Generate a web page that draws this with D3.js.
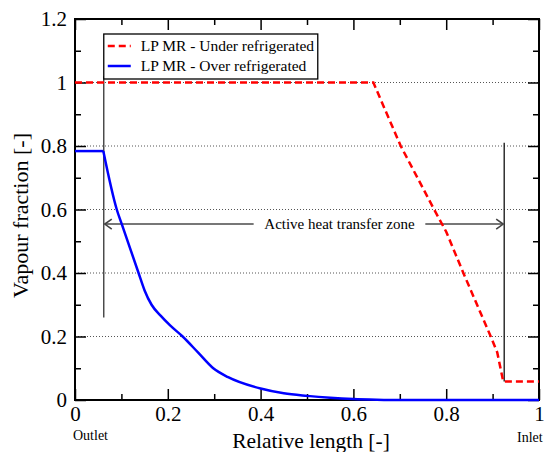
<!DOCTYPE html>
<html>
<head>
<meta charset="utf-8">
<script src="https://cdn.jsdelivr.net/npm/d3@7"></script>
<style>
  body { margin: 0; background: #fff; }
  svg { display: block; font-family: "Liberation Serif", "Times New Roman", serif; }
</style>
</head>
<body>
<div id="chart"></div>
<script>
// LP MR - Under refrigerated (red dashed)
var underX = [0, 0.643, 0.702, 0.774, 0.800, 0.837, 0.896, 0.910, 0.923, 1.0];
var underY = [1.0, 1.0, 0.80, 0.60, 0.53, 0.40, 0.20, 0.15, 0.058, 0.058];

// LP MR - Over refrigerated (blue solid)
var overX = [0, 0.061, 0.090, 0.101, 0.137, 0.150, 0.165, 0.185, 0.205, 0.232, 0.265, 0.298, 0.330, 0.400, 0.450, 0.500, 0.550, 0.600, 0.650, 0.700, 1.0];
var overY = [0.784, 0.784, 0.60, 0.553, 0.40, 0.345, 0.300, 0.265, 0.235, 0.200, 0.150, 0.100, 0.072, 0.036, 0.021, 0.013, 0.007, 0.003, 0.001, 0, 0];

var seriesNames = ["LP MR - Under refrigerated", "LP MR - Over refrigerated"];
var xTicks = [0, 0.2, 0.4, 0.6, 0.8, 1];
var yTicks = [0, 0.2, 0.4, 0.6, 0.8, 1, 1.2];
var gridY = [0.2, 0.4, 0.6, 0.8, 1];

// annotation: active zone boundaries
var zoneStart = 0.062, zoneEnd = 0.925, zoneArrowY = 0.554;

(function(){

  var width = 544,
      height = 452,
      margin = {top: 19, right: 5, bottom: 52, left: 75},
      chartWidth = width - margin.left - margin.right,
      chartHeight = height - margin.top - margin.bottom,
      serif = "Liberation Serif, Times New Roman, serif";

  var svg = d3.select("#chart").append("svg")
      .attr("width", width)
      .attr("height", height);

  var defs = svg.append("defs");
  defs.append("marker")
      .attr("id", "arrow")
      .attr("viewBox", "-10 -10 20 20")
      .attr("markerWidth", 10)
      .attr("markerHeight", 10)
      .attr("orient", "auto")
    .append("path")
      .attr("d", "M-7,-5 L0,0 L-7,5")
      .attr("fill", "none")
      .attr("stroke", "#444")
      .attr("stroke-width", 1.6);

  var chart = svg.append("g")
      .attr("transform", "translate(" + margin.left + "," + margin.top + ")");

  var x = d3.scaleLinear().domain([0, 1]).range([0, chartWidth]);
  var y = d3.scaleLinear().domain([0, 1.2]).range([chartHeight, 0]);

  // dotted grid
  chart.append("g").attr("class", "grid")
    .selectAll("line")
    .data(gridY)
    .enter().append("line")
      .attr("x1", 0).attr("x2", chartWidth)
      .attr("y1", function(d){ return y(d); })
      .attr("y2", function(d){ return y(d); })
      .attr("stroke", "#555")
      .attr("stroke-width", 1)
      .attr("stroke-dasharray", "1,2");

  // ticks on all four sides, pointing inwards
  var xMinor = d3.range(0.1, 1, 0.2), yMinor = d3.range(0.1, 1.2, 0.2);

  function styleAxis(g){
    g.select(".domain").remove();
    g.selectAll(".tick line").attr("stroke", "#000").attr("stroke-width", 1.5);
  }

  chart.append("g")
      .attr("transform", "translate(0," + chartHeight + ")")
      .call(d3.axisBottom(x).tickValues(xTicks).tickSize(-11).tickPadding(6)
        .tickFormat(function(d){ return d3.format("")(d); }))
      .call(styleAxis)
      .selectAll("text")
        .attr("font-size", 21).attr("fill", "#000")
        .attr("font-family", serif);

  chart.append("g")
      .attr("transform", "translate(0," + chartHeight + ")")
      .call(d3.axisBottom(x).tickValues(xMinor).tickSize(-6).tickFormat(""))
      .call(styleAxis);

  chart.append("g")
      .call(d3.axisTop(x).tickValues(xTicks).tickSize(-11).tickFormat(""))
      .call(styleAxis);
  chart.append("g")
      .call(d3.axisTop(x).tickValues(xMinor).tickSize(-6).tickFormat(""))
      .call(styleAxis);

  chart.append("g")
      .call(d3.axisLeft(y).tickValues(yTicks).tickSize(-11).tickPadding(8)
        .tickFormat(function(d){ return d3.format("")(+d.toFixed(1)); }))
      .call(styleAxis)
      .selectAll("text")
        .attr("font-size", 21).attr("fill", "#000")
        .attr("font-family", serif);
  chart.append("g")
      .call(d3.axisLeft(y).tickValues(yMinor).tickSize(-6).tickFormat(""))
      .call(styleAxis);

  chart.append("g")
      .attr("transform", "translate(" + chartWidth + ",0)")
      .call(d3.axisRight(y).tickValues(yTicks).tickSize(-11).tickFormat(""))
      .call(styleAxis);
  chart.append("g")
      .attr("transform", "translate(" + chartWidth + ",0)")
      .call(d3.axisRight(y).tickValues(yMinor).tickSize(-6).tickFormat(""))
      .call(styleAxis);

  // frame
  chart.append("rect")
      .attr("width", chartWidth)
      .attr("height", chartHeight)
      .attr("fill", "none")
      .attr("stroke", "#000")
      .attr("stroke-width", 2);

  // series
  var under = underX.map(function(d, i){ return {x: d, y: underY[i]}; });
  var over = overX.map(function(d, i){ return {x: d, y: overY[i]}; });

  var lineLinear = d3.line()
      .x(function(d){ return x(d.x); })
      .y(function(d){ return y(d.y); });

  var lineSmooth = d3.line()
      .x(function(d){ return x(d.x); })
      .y(function(d){ return y(d.y); })
      .curve(d3.curveMonotoneX);

  // annotation lines (under the curves)
  var ann = chart.append("g").attr("class", "annotation");
  ann.append("line")
      .attr("x1", x(zoneStart)).attr("x2", x(zoneStart))
      .attr("y1", y(1.02)).attr("y2", y(0.26))
      .attr("stroke", "#333").attr("stroke-width", 1.3);
  ann.append("line")
      .attr("x1", x(zoneEnd)).attr("x2", x(zoneEnd))
      .attr("y1", y(0.81)).attr("y2", y(0.058))
      .attr("stroke", "#111").attr("stroke-width", 1.3);

  ann.append("line")
      .attr("x1", x(0.385)).attr("x2", x(zoneStart) + 1)
      .attr("y1", y(zoneArrowY)).attr("y2", y(zoneArrowY))
      .attr("stroke", "#777").attr("stroke-width", 2)
      .attr("marker-end", "url(#arrow)");
  ann.append("line")
      .attr("x1", x(0.755)).attr("x2", x(zoneEnd) - 1)
      .attr("y1", y(zoneArrowY)).attr("y2", y(zoneArrowY))
      .attr("stroke", "#777").attr("stroke-width", 2)
      .attr("marker-end", "url(#arrow)");
  ann.append("text")
      .attr("x", x(0.57))
      .attr("y", y(zoneArrowY) + 5)
      .attr("text-anchor", "middle")
      .attr("font-size", 15)
      .attr("fill", "#000")
      .text("Active heat transfer zone");

  chart.append("path")
      .attr("d", lineLinear(under))
      .attr("fill", "none")
      .attr("stroke", "#ff0000")
      .attr("stroke-width", 2.5)
      .attr("stroke-dasharray", "7,4");

  // flat outlet part is a sharp corner, the decay after it is smooth
  chart.append("path")
      .attr("d", lineLinear(over.slice(0, 2)))
      .attr("fill", "none")
      .attr("stroke", "#0000ff")
      .attr("stroke-width", 2.5);
  chart.append("path")
      .attr("d", lineSmooth(over.slice(1)))
      .attr("fill", "none")
      .attr("stroke", "#0000ff")
      .attr("stroke-width", 2.5)
      .attr("stroke-linejoin", "round");

  // legend
  var legend = chart.append("g")
      .attr("transform", "translate(" + (x(0.062)) + "," + 15 + ")");
  legend.append("rect")
      .attr("width", 214)
      .attr("height", 45)
      .attr("fill", "#fff")
      .attr("stroke", "#000")
      .attr("stroke-width", 1.3);

  var legendStyles = [
    {color: "#ff0000", dash: "7,4"},
    {color: "#0000ff", dash: null}
  ];

  var items = legend.selectAll("g.item")
      .data(seriesNames)
      .enter().append("g")
      .attr("class", "item")
      .attr("transform", function(d, i){ return "translate(0," + (12 + i * 20) + ")"; });

  items.append("line")
      .attr("x1", 4).attr("x2", 27)
      .attr("y1", 0).attr("y2", 0)
      .attr("stroke", function(d, i){ return legendStyles[i].color; })
      .attr("stroke-width", 2.5)
      .attr("stroke-dasharray", function(d, i){ return legendStyles[i].dash; });

  items.append("text")
      .attr("x", 37)
      .attr("y", 5)
      .attr("font-size", 15.5)
      .attr("fill", "#000")
      .text(function(d){ return d; });

  // axis titles
  svg.append("text")
      .attr("x", margin.left + x(0.5) + 4)
      .attr("y", 448)
      .attr("text-anchor", "middle")
      .attr("font-size", 21.5)
      .attr("fill", "#000")
      .text("Relative length [-]");

  svg.append("text")
      .attr("transform", "translate(28," + (margin.top + y(0.6) + 6) + ") rotate(-90)")
      .attr("text-anchor", "middle")
      .attr("font-size", 22)
      .attr("fill", "#000")
      .text("Vapour fraction [-]");

  svg.append("text")
      .attr("x", margin.left - 2)
      .attr("y", 440)
      .attr("font-size", 14)
      .attr("fill", "#000")
      .text("Outlet");

  svg.append("text")
      .attr("x", 517)
      .attr("y", 442)
      .attr("font-size", 14)
      .attr("fill", "#000")
      .text("Inlet");

})();
</script>
</body>
</html>
